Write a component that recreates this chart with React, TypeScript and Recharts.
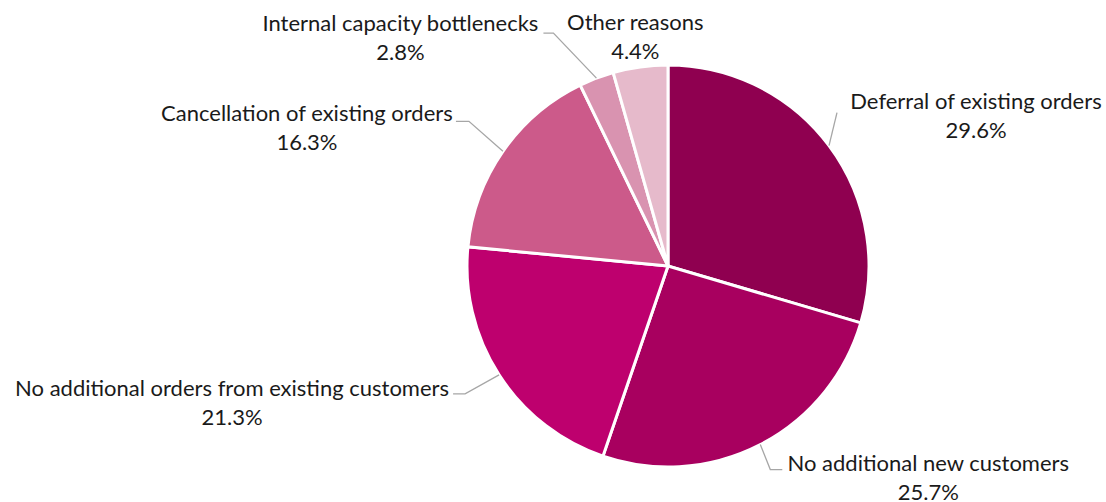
import { PieChart, Pie, Cell } from "recharts";

const categories = [
  "Deferral of existing orders",
  "No additional new customers",
  "No additional orders from existing customers",
  "Cancellation of existing orders",
  "Internal capacity bottlenecks",
  "Other reasons",
];
const shares = [29.6, 25.7, 21.3, 16.3, 2.8, 4.4];
const colors = ["#8F0050", "#A8005F", "#BE006E", "#CC5A8A", "#D993B0", "#E6BACB"];

const data = categories.map((name, i) => ({ name, value: shares[i] }));

// label placement relative to the slice's outer-edge midpoint
// t = text centre (first line), pts = leader points after the edge point
type Place = { t: [number, number]; pts: [number, number][] };
const places: Place[] = [
  { t: [147, -45], pts: [[8, -33]] },
  { t: [168, 18], pts: [[10, 25], [22, 25]] },
  { t: [-267, 13], pts: [[-34, 19], [-46, 19]] },
  { t: [-196, -39], pts: [[-34, -30], [-47, -30]] },
  { t: [-196, -56], pts: [[-43, -45], [-53, -45]] },
  { t: [-5, -45], pts: [] },
];

const RAD = Math.PI / 180;

function renderLabel(props: any) {
  const { cx, cy, midAngle, outerRadius, index, value, name } = props;
  const ex = cx + outerRadius * Math.cos(-midAngle * RAD);
  const ey = cy + outerRadius * Math.sin(-midAngle * RAD);
  const p = places[index];
  const pts = [[ex, ey], ...p.pts.map(([dx, dy]) => [ex + dx, ey + dy])];
  const tx = ex + p.t[0];
  const ty = ey + p.t[1];
  return (
    <g key={`lbl-${index}`}>
      {pts.length > 1 && (
        <polyline
          points={pts.map((q) => q.join(",")).join(" ")}
          fill="none"
          stroke="#A6A6A6"
          strokeWidth={1.3}
        />
      )}
      <text
        x={tx}
        y={ty}
        textAnchor="middle"
        dominantBaseline="central"
        fill="#1a1a1a"
        fontSize={22}
        fontFamily="Lato, sans-serif"
      >
        {name}
      </text>
      <text
        x={tx}
        y={ty + 29}
        textAnchor="middle"
        dominantBaseline="central"
        fill="#1a1a1a"
        fontSize={22}
        fontFamily="Lato, sans-serif"
      >
        {value.toFixed(1)}%
      </text>
    </g>
  );
}

export default function App() {
  return (
    <div style={{ position: "absolute", left: 0, top: 0, background: "#fff" }}>
      <PieChart width={1106} height={502} margin={{ top: 0, right: 0, bottom: 0, left: 0 }}>
        <Pie
          data={data}
          dataKey="value"
          nameKey="name"
          cx={668}
          cy={266}
          outerRadius={201}
          startAngle={90}
          endAngle={-270}
          stroke="#ffffff"
          strokeWidth={3}
          label={renderLabel}
          labelLine={false}
          isAnimationActive={false}
        >
          {data.map((d, i) => (
            <Cell key={d.name} fill={colors[i]} />
          ))}
        </Pie>
      </PieChart>
    </div>
  );
}
